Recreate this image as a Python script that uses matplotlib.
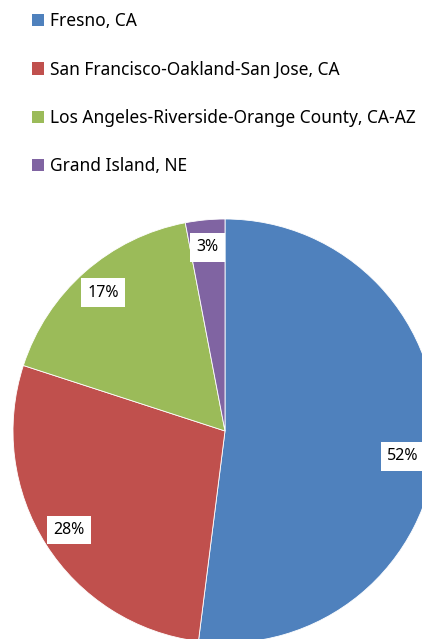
import matplotlib
matplotlib.use("Agg")
import matplotlib.pyplot as plt
from matplotlib.patches import Patch

plt.rcParams['font.family'] = ['Noto Sans', 'DejaVu Sans']

labels = ["Fresno, CA", "San Francisco-Oakland-San Jose, CA",
          "Los Angeles-Riverside-Orange County, CA-AZ", "Grand Island, NE"]
shares = [52, 28, 17, 3]
colors = ["#4F81BD", "#C0504D", "#9BBB59", "#8064A2"]

W, H = 422, 639
fig = plt.figure(figsize=(W / 100, H / 100), dpi=100)
ax = fig.add_axes([0, 0, 1, 1])

wedges, texts, autotexts = ax.pie(
    shares, colors=colors, startangle=90, counterclock=False,
    autopct='%d%%', pctdistance=0.87,
    wedgeprops=dict(edgecolor='white', linewidth=0.6),
    textprops=dict(fontsize=11.5, color='#000000'))
for t in autotexts:
    t.set_bbox(dict(facecolor='white', edgecolor='none', pad=4.5))
autotexts[0].set_position((0.84, -0.12))

# pie resets the limits, so place the circle afterwards
R = 212.0
cx, cy = 225.0, 431.0
ax.set_xlim(-cx / R, (W - cx) / R)
ax.set_ylim(-(H - cy) / R, cy / R)
ax.set_aspect('equal')
ax.axis('off')

handles = [Patch(facecolor=c, edgecolor='none') for c in colors]
leg = fig.legend(handles, labels, loc='upper left', bbox_to_anchor=(0.047, 1.0),
                 frameon=False, fontsize=12.5, handlelength=0.7, handleheight=0.7,
                 handletextpad=0.35, labelspacing=1.75, borderaxespad=0.3)

fig.savefig("out.png", dpi=100)
